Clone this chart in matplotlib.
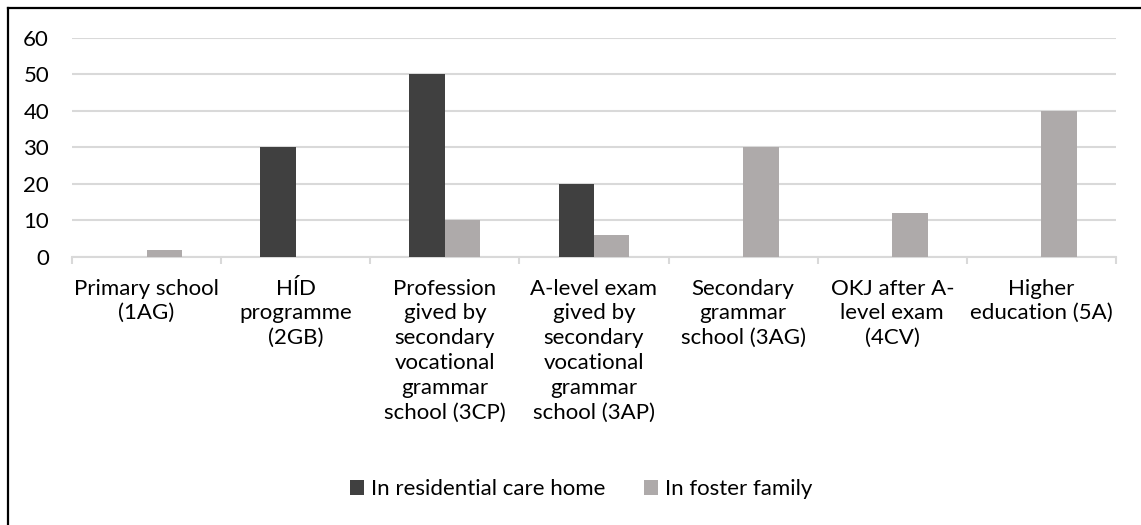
import matplotlib
matplotlib.use("Agg")
import matplotlib.pyplot as plt
from matplotlib.lines import Line2D
import numpy as np

plt.rcParams['font.family'] = ['Lato', 'DejaVu Sans']

categories = [
    "Primary school\n(1AG)",
    "HÍD\nprogramme\n(2GB)",
    "Profession\ngived by\nsecondary\nvocational\ngrammar\nschool (3CP)",
    "A-level exam\ngived by\nsecondary\nvocational\ngrammar\nschool (3AP)",
    "Secondary\ngrammar\nschool (3AG)",
    "OKJ after A-\nlevel exam\n(4CV)",
    "Higher\neducation (5A)",
]
residential = [0, 30, 50, 20, 0, 0, 0]
foster = [2, 0, 10, 6, 30, 12, 40]
series_names = ["In residential care home", "In foster family"]
yticks = [0, 10, 20, 30, 40, 50, 60]

W, H = 1141, 525
fig = plt.figure(figsize=(W / 100, H / 100), dpi=100)
ax = fig.add_axes([72 / W, 1 - 257 / H, (1116 - 72) / W, (257 - 37.7) / H])

x = np.arange(len(categories))
bw = 0.238
ax.bar(x - bw / 2, residential, bw, color="#404040", label=series_names[0], zorder=3)
ax.bar(x + bw / 2, foster, bw, color="#AEAAAA", label=series_names[1], zorder=3)

ax.set_xlim(-0.5, len(categories) - 0.5)
ax.set_ylim(0, 60)
ax.set_yticks(yticks)
ax.yaxis.grid(True, color="#D9D9D9", linewidth=1.5, zorder=0)
ax.tick_params(axis="y", length=0, pad=16.5, labelsize=16)

ax.set_xticks(x)
ax.set_xticklabels(categories, fontsize=16, linespacing=1.3, va="top")
ax.tick_params(axis="x", which="major", length=0, pad=15.5)
ax.set_xticks(np.arange(len(categories) + 1) - 0.5, minor=True)
ax.tick_params(axis="x", which="minor", length=5, width=1.5, color="#D9D9D9")

for s in ["top", "right", "left"]:
    ax.spines[s].set_visible(False)
ax.spines["bottom"].set_color("#D9D9D9")
ax.spines["bottom"].set_linewidth(1.5)

fig.legend(loc="center", bbox_to_anchor=(581 / W, 1 - 489 / H), ncol=2, frameon=False,
           fontsize=16, handlelength=0.65, handleheight=0.65, handletextpad=0.3,
           columnspacing=1.75)

# outer chart border (left and top visible)
fig.add_artist(Line2D([8 / W, 8 / W], [0, 1 - 8 / H], color="black", linewidth=1.6))
fig.add_artist(Line2D([8 / W, 1], [1 - 8 / H, 1 - 8 / H], color="black", linewidth=1.6))

fig.savefig("out.png", dpi=100)
